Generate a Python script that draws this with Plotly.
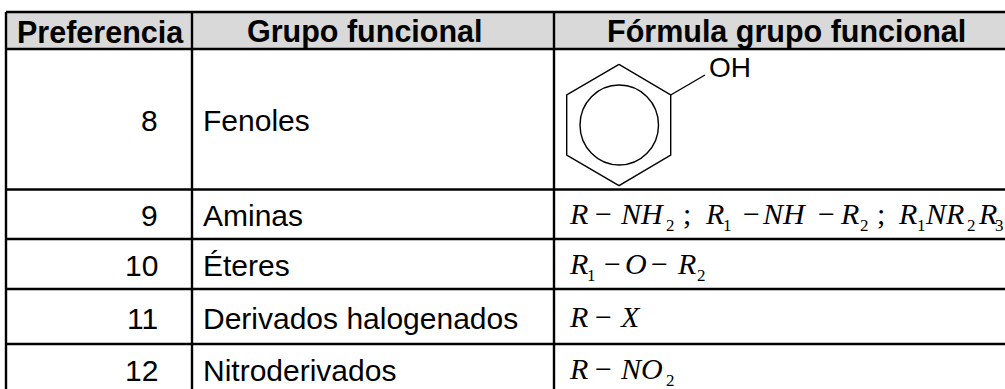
import plotly.graph_objects as go

HEADERS = ["Preferencia", "Grupo funcional", "Fórmula grupo funcional"]
PREFERENCIA = ["8", "9", "10", "11", "12"]
GRUPOS = ["Fenoles", "Aminas", "Éteres", "Derivados halogenados", "Nitroderivados"]
HYDROXYL = "OH"
# formula runs: (text, kind) — kind: i italic, n upright symbol, s subscript
FORMULAS = {
    1: [("R", "i"), ("−", "n"), ("NH", "i"), ("2", "s"), (";", "n"), ("R", "i"), ("1", "s"), ("−", "n"),
        ("NH", "i"), ("−", "n"), ("R", "i"), ("2", "s"), (";", "n"), ("R", "i"), ("1", "s"), ("NR", "i"),
        ("2", "s"), ("R", "i"), ("3", "s")],
    2: [("R", "i"), ("1", "s"), ("−", "n"), ("O", "i"), ("−", "n"), ("R", "i"), ("2", "s")],
    3: [("R", "i"), ("−", "n"), ("X", "i")],
    4: [("R", "i"), ("−", "n"), ("NO", "i"), ("2", "s")],
}
FORMULA_X = {
    1: [569, 595, 620, 666, 683, 705, 723, 743, 762, 818, 840, 860, 877, 898, 917, 925, 967, 978, 995],
    2: [569, 587, 604, 625, 651, 677, 697],
    3: [569, 595, 620],
    4: [569, 595, 620, 666],
}

W, H = 1005, 389
COL_LINES = [6, 192, 554]
ROW_LINES = [12, 49, 189.5, 239, 289, 344]
BASELINES = [130, 225, 275, 328, 380]
HEADER_BASE = 42
RING_X = [619, 670.7, 670.7, 619, 566.7, 566.7, 619]
RING_Y = [64.3, 95, 155, 185.7, 155, 95, 64.3]
BOND_X = [670.7, 705]
BOND_Y = [95, 75]

SANS = "Liberation Sans"
SERIF = "Liberation Serif"
fig = go.Figure()
fig.add_trace(go.Scatter(x=RING_X, y=RING_Y, mode="lines", line=dict(color="black", width=1.4), hoverinfo="skip"))
fig.add_trace(go.Scatter(x=BOND_X, y=BOND_Y, mode="lines", line=dict(color="black", width=1.4), hoverinfo="skip"))

shapes = [dict(type="rect", layer="below", x0=COL_LINES[0], x1=W, y0=ROW_LINES[0], y1=ROW_LINES[1],
               fillcolor="#d9d9d9", line_width=0)]
for y in ROW_LINES:
    shapes.append(dict(type="line", x0=COL_LINES[0], x1=W, y0=y, y1=y, line=dict(color="black", width=2.4)))
for x in COL_LINES:
    shapes.append(dict(type="line", x0=x, x1=x, y0=ROW_LINES[0], y1=H, line=dict(color="black", width=2.4)))
shapes.append(dict(type="circle", x0=580, x1=658.5, y0=85, y1=165, line=dict(color="black", width=1.4)))


def put(text, x, base, size, family=SANS, anchor="left", bold=False, italic=False):
    if bold:
        text = f"<b>{text}</b>"
    if italic:
        text = f"<i>{text}</i>"
    ascent = 0.3375 if family == SERIF else 0.33
    fig.add_annotation(x=x, y=base - ascent * size, text=text, showarrow=False, xanchor=anchor, yanchor="middle",
                       xref="x", yref="y", borderpad=0, borderwidth=0,
                       font=dict(family=family, size=size, color="black"))


put(HEADERS[0], 17, HEADER_BASE, 30.5, anchor="left", bold=True)
put(HEADERS[1], 365, HEADER_BASE, 30.5, anchor="center", bold=True)
put(HEADERS[2], 786, HEADER_BASE, 30.5, anchor="center", bold=True)
for p, g, b in zip(PREFERENCIA, GRUPOS, BASELINES):
    put(p, 158, b, 30, anchor="right")
    put(g, 203, b, 30)
put(HYDROXYL, 709, 77, 28)

for row, runs in FORMULAS.items():
    base = BASELINES[row] - 1
    for (text, kind), x in zip(runs, FORMULA_X[row]):
        if kind == "s":
            put(text, x, base + 7, 17, family=SERIF)
        elif kind == "i":
            put(text, x, base, 30, family=SERIF, italic=True)
        else:
            put(text, x, base, 30, family=SERIF)

fig.update_layout(width=W, height=H, margin=dict(l=0, r=0, t=0, b=0), showlegend=False,
                  paper_bgcolor="white", plot_bgcolor="white", shapes=shapes,
                  xaxis=dict(range=[0, W], visible=False, fixedrange=True),
                  yaxis=dict(range=[H, 0], visible=False, fixedrange=True))
fig.write_html("out.html", config={"displayModeBar": False},
               post_script="document.body.style.margin='0';document.documentElement.style.overflow='hidden';")
